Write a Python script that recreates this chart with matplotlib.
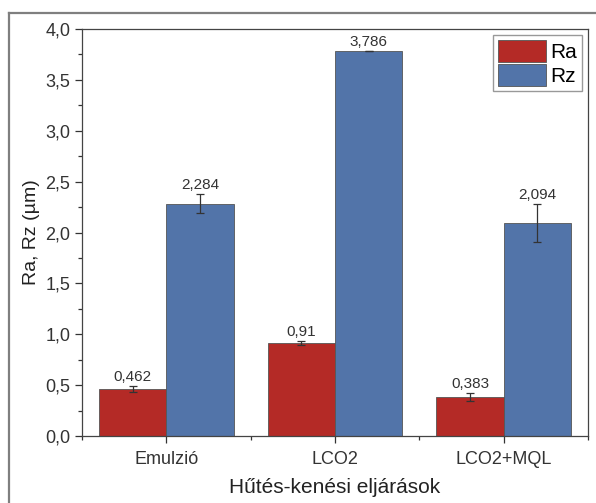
import numpy as np
import matplotlib.pyplot as plt
from matplotlib.ticker import MultipleLocator, FuncFormatter

# -------- DATA --------
categories = ["Emulzió", "LCO2", "LCO2+MQL"]
ra_values = [0.462, 0.91, 0.383]
rz_values = [2.284, 3.786, 2.094]
ra_err = [0.025, 0.02, 0.04]
rz_err = [0.09, 0.0, 0.19]
ra_labels = ["0,462", "0,91", "0,383"]
rz_labels = ["2,284", "3,786", "2,094"]

plt.rcParams['font.family'] = ['Liberation Sans', 'DejaVu Sans']

fig = plt.figure(figsize=(5.96, 5.03), dpi=100)
ax = fig.add_axes([0.1376, 0.1332, 0.8490, 0.8091])

# outer frame of the source document
fig.add_artist(plt.Line2D([0.015, 0.015], [0.0, 0.974], color='#7f7f7f', lw=1.6,
                          transform=fig.transFigure))
fig.add_artist(plt.Line2D([0.015, 1.0], [0.974, 0.974], color='#7f7f7f', lw=1.6,
                          transform=fig.transFigure))

x = np.arange(len(categories))
w = 0.4
red = '#b42a26'
blue = '#5274a9'

ax.bar(x - w / 2, ra_values, w, color=red, edgecolor='#555555', lw=0.6,
       label='Ra', zorder=2)
ax.bar(x + w / 2, rz_values, w, color=blue, edgecolor='#555555', lw=0.6,
       label='Rz', zorder=2)
ax.errorbar(x - w / 2, ra_values, yerr=ra_err, fmt='none', ecolor='#333333',
            elinewidth=0.9, capsize=3, capthick=0.9, zorder=3)
ax.errorbar(x + w / 2, rz_values, yerr=rz_err, fmt='none', ecolor='#333333',
            elinewidth=0.9, capsize=3, capthick=0.9, zorder=3)

# -------- VALUE LABELS --------
for xi, v, e, t in zip(x - w / 2, ra_values, ra_err, ra_labels):
    ax.annotate(t, (xi, v + e), xytext=(0, 1.5), textcoords='offset points',
                ha='center', va='bottom', fontsize=11, color='#333333')
for xi, v, e, t in zip(x + w / 2, rz_values, rz_err, rz_labels):
    ax.annotate(t, (xi, v + e), xytext=(0, 1.5), textcoords='offset points',
                ha='center', va='bottom', fontsize=11, color='#333333')

# -------- AXES --------
ax.set_xlim(-0.5, 2.5)
ax.set_ylim(0, 4.0)
ax.set_xticks(x)
ax.set_xticklabels(categories)
ax.xaxis.set_minor_locator(MultipleLocator(1.0, offset=0.5))
ax.yaxis.set_major_locator(MultipleLocator(0.5))
ax.yaxis.set_minor_locator(MultipleLocator(0.25))
ax.yaxis.set_major_formatter(FuncFormatter(lambda v, p: f"{v:.1f}".replace('.', ',')))

ax.tick_params(axis='both', which='major', direction='out', length=5, width=0.9,
               colors='#333333', labelsize=13, labelcolor='#333333')
ax.tick_params(axis='both', which='minor', direction='out', length=3, width=0.9,
               colors='#333333')
ax.tick_params(axis='x', which='major', pad=6)
for s in ax.spines.values():
    s.set_color('#444444')
    s.set_linewidth(0.9)

ax.set_ylabel("Ra, Rz (µm)", fontsize=14, color='#222222', labelpad=4)
ax.set_xlabel("Hűtés-kenési eljárások", fontsize=15, color='#222222', labelpad=7)

leg = ax.legend(loc='upper right', fontsize=15, handlelength=2.3, handleheight=1.2,
                labelspacing=0.1, borderpad=0.25, handletextpad=0.2,
                borderaxespad=0.3, fancybox=False, framealpha=1)
leg.get_frame().set_edgecolor('#999999')
leg.get_frame().set_linewidth(1.0)

fig.savefig("out.png", dpi=100)
